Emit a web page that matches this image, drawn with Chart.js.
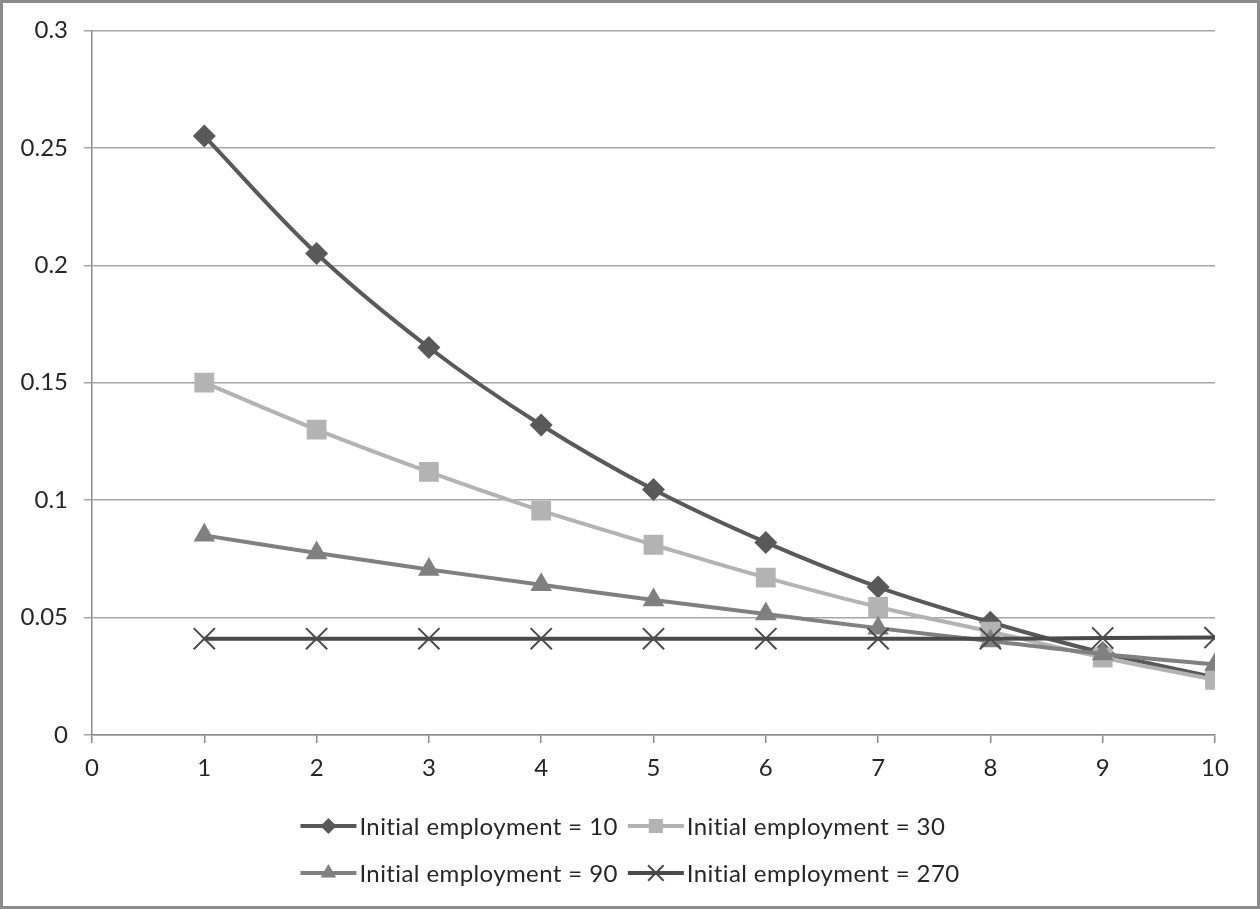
<!DOCTYPE html>
<html>
<head>
<meta charset="utf-8">
<script src="https://cdn.jsdelivr.net/npm/chart.js@4.4.1/dist/chart.umd.min.js"></script>
<style>
  html,body{margin:0;padding:0;background:#fff;}
  #wrap{width:1260px;height:909px;position:relative;}
</style>
</head>
<body>
<div id="wrap"><canvas id="chart" width="1260" height="909"></canvas></div>
<script>
// data
const periods = [1, 2, 3, 4, 5, 6, 7, 8, 9, 10];
const emp10  = [0.255, 0.205, 0.165, 0.132, 0.1045, 0.082, 0.063, 0.048, 0.035, 0.0245];
const emp30  = [0.150, 0.130, 0.112, 0.0955, 0.081, 0.067, 0.0545, 0.044, 0.033, 0.0235];
const emp90  = [0.085, 0.0775, 0.0705, 0.064, 0.0575, 0.0515, 0.0455, 0.040, 0.0345, 0.030];
const emp270 = [0.041, 0.041, 0.041, 0.041, 0.041, 0.041, 0.041, 0.041, 0.0413, 0.0415];
const seriesNames = ["Initial employment = 10", "Initial employment = 30", "Initial employment = 90", "Initial employment = 270"];
const yTicks = [0, 0.05, 0.1, 0.15, 0.2, 0.25, 0.3];
const xTicks = [0, 1, 2, 3, 4, 5, 6, 7, 8, 9, 10];

const FONT = "Lato, 'Open Sans', sans-serif";

function pts(vals){ return periods.map((p, i) => ({x: p, y: vals[i]})); }

const styles = [
  {color: "#595959", style: "rectRot", r: 11.5, lr: 8},
  {color: "#b3b3b3", style: "rect", r: 14, lr: 10},
  {color: "#808080", style: "triangle", r: 12.5, lr: 9},
  {color: "#4a4a4a", style: "crossRot", r: 15, lr: 11}
];
const allVals = [emp10, emp30, emp90, emp270];

const datasets = allVals.map((v, i) => ({
  label: seriesNames[i],
  data: pts(v),
  borderColor: styles[i].color,
  backgroundColor: styles[i].color,
  borderWidth: 4,
  tension: 0.35,
  pointStyle: styles[i].style,
  pointRadius: styles[i].r,
  pointBorderWidth: i === 3 ? 2 : 0,
  pointBackgroundColor: styles[i].color,
  pointBorderColor: styles[i].color,
  order: 3 - i
}));

// frame round the whole picture
const framePlugin = {
  id: "frame",
  beforeDraw(chart){
    const c = chart.ctx;
    c.save();
    c.fillStyle = "#fff";
    c.fillRect(0, 0, chart.width, chart.height);
    c.strokeStyle = "#8c8c8c";
    c.lineWidth = 3;
    c.strokeRect(1.5, 1.5, chart.width - 3, chart.height - 3);
    c.restore();
  }
};

// two-row legend under the plot, like the spreadsheet one
const legendPlugin = {
  id: "legend2",
  afterDraw(chart){
    const c = chart.ctx;
    c.save();
    c.font = "24px " + FONT;
    if ("letterSpacing" in c) c.letterSpacing = "0.4px";
    c.textBaseline = "middle";
    c.fillStyle = "#262626";
    const lineLen = 56, gap = 3, colGap = 10;
    const w = seriesNames.map(t => lineLen + gap + c.measureText(t).width);
    const col0 = Math.max(w[0], w[2]) + colGap;
    const total = col0 + Math.max(w[1], w[3]);
    const left = chart.width / 2 - total / 2;
    const rows = [chart.chartArea.bottom + 91, chart.chartArea.bottom + 138];
    seriesNames.forEach((name, i) => {
      const x = left + (i % 2 ? col0 : 0);
      const y = rows[Math.floor(i / 2)];
      const s = styles[i];
      c.strokeStyle = s.color;
      c.lineWidth = 4;
      c.beginPath();
      c.moveTo(x, y);
      c.lineTo(x + lineLen, y);
      c.stroke();
      c.fillStyle = s.color;
      c.lineWidth = i === 3 ? 2 : 0;
      Chart.helpers.drawPoint(c, {pointStyle: s.style, radius: s.lr, rotation: 0, borderWidth: i === 3 ? 2 : 0}, x + lineLen / 2, y);
      c.fillStyle = "#262626";
      c.fillText(name, x + lineLen + gap, y + 1);
    });
    c.restore();
  }
};

new Chart(document.getElementById("chart"), {
  type: "line",
  data: {datasets},
  options: {
    responsive: false,
    animation: false,
    layout: {padding: {left: 0, right: 45, top: 30, bottom: 124}},
    plugins: {legend: {display: false}, tooltip: {enabled: false}},
    scales: {
      x: {
        type: "linear",
        min: 0, max: 10,
        afterBuildTicks: s => { s.ticks = xTicks.map(v => ({value: v})); },
        grid: {drawOnChartArea: false, drawTicks: true, tickLength: 8, color: "#8c8c8c", lineWidth: 1.5},
        border: {color: "#8c8c8c", width: 1.5},
        ticks: {color: "#262626", font: {family: FONT, size: 24}, padding: 11, maxRotation: 0},
        afterFit: s => { s.height = 50; }
      },
      y: {
        min: 0, max: 0.3,
        afterBuildTicks: s => { s.ticks = yTicks.map(v => ({value: v})); },
        grid: {color: "#a6a6a6", lineWidth: 1.5, tickLength: 8},
        border: {color: "#8c8c8c", width: 1.5},
        ticks: {color: "#262626", font: {family: FONT, size: 24}, padding: 16, callback: v => String(+v.toFixed(2))},
        afterFit: s => { s.width = 92; }
      }
    }
  },
  plugins: [framePlugin, legendPlugin]
});
</script>
</body>
</html>
